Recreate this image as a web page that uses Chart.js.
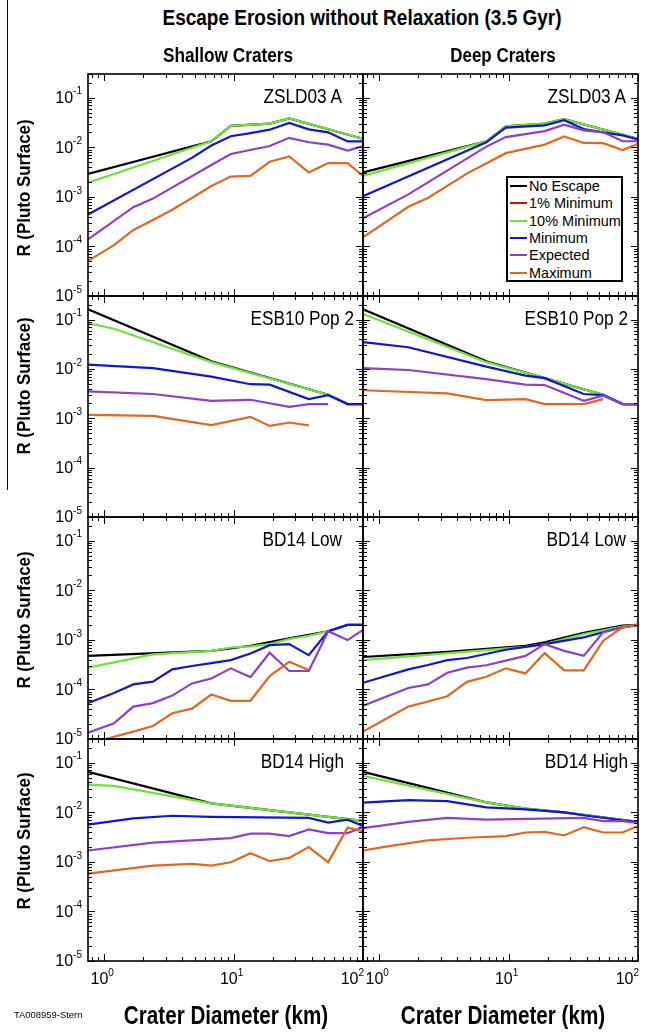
<!DOCTYPE html>
<html><head><meta charset="utf-8">
<script src="https://cdn.jsdelivr.net/npm/chart.js@4.4.1/dist/chart.umd.min.js"></script>
<style>
html,body{margin:0;padding:0;background:#fff;}
#page{position:relative;width:645px;height:1034px;overflow:hidden;background:#fff;font-family:"Liberation Sans",Arial,sans-serif;}
#page canvas{position:absolute;}
.t{position:absolute;white-space:nowrap;color:#000;line-height:1;}
</style></head><body><div id="page"></div>
<script>
const n = null;
// crater diameter bins (km)
const diameters = [0.75,1.19,1.68,2.38,3.36,4.76,6.73,9.51,13.5,19.0,26.9,38.1,53.8,76.1,100];
const xTickValues = [1,10,100];
const xTickExps = ['0','1','2'];
const yTickValues = [1e-1,1e-2,1e-3,1e-4,1e-5];
const yTickExps = ['-1','-2','-3','-4','-5'];
const seriesNames = ['No Escape','1% Minimum','10% Minimum','Minimum','Expected','Maximum'];
const seriesColors = ['#000000','#cc1010','#74e03c','#1414d4','#8c40d0','#e0681f'];

// ZSLD03 A, shallow
const zsS_noEsc = [2.9e-3,n,n,n,n,n,1.32e-2,2.7e-2,n,3.0e-2,3.8e-2,n,n,n,1.48e-2];
const zsS_ten   = [1.93e-3,n,n,n,n,n,1.32e-2,2.7e-2,n,3.0e-2,3.8e-2,n,n,n,1.48e-2];
const zsS_min   = [4.4e-4,n,n,n,n,6.1e-3,1.08e-2,1.67e-2,1.93e-2,2.26e-2,3.1e-2,2.3e-2,2.0e-2,1.31e-2,1.31e-2];
const zsS_exp   = [1.39e-4,n,6.2e-4,9.2e-4,n,n,4.4e-3,7.3e-3,n,1.06e-2,1.55e-2,1.26e-2,1.13e-2,8.6e-3,1.06e-2];
const zsS_max   = [5.1e-5,1.06e-4,2.15e-4,3.4e-4,5.5e-4,9.5e-4,1.65e-3,2.56e-3,2.64e-3,5.1e-3,6.5e-3,3.1e-3,4.8e-3,4.8e-3,2.64e-3];
// ZSLD03 A, deep
const zsD_noEsc = [3.1e-3,n,n,n,n,n,1.31e-2,2.64e-2,n,3.0e-2,3.7e-2,n,n,n,1.48e-2];
const zsD_ten   = [2.64e-3,n,n,n,n,n,1.31e-2,2.64e-2,n,3.0e-2,3.7e-2,n,n,n,1.48e-2];
const zsD_min   = [1.03e-3,n,n,n,n,n,1.26e-2,2.48e-2,n,2.77e-2,3.5e-2,2.33e-2,2.0e-2,1.73e-2,1.43e-2];
const zsD_exp   = [3.7e-4,n,1.12e-3,n,n,n,1.03e-2,1.6e-2,n,2.12e-2,2.86e-2,2.19e-2,2.0e-2,1.32e-2,1.32e-2];
const zsD_max   = [1.53e-4,n,6.3e-4,9.5e-4,n,2.94e-3,n,7.6e-3,n,1.13e-2,1.65e-2,1.22e-2,1.21e-2,8.8e-3,1.17e-2];
// ESB10 Pop 2, shallow
const esS_noEsc = [0.161,n,n,n,n,n,1.43e-2,n,n,n,n,n,2.99e-3,1.94e-3,1.94e-3];
const esS_ten   = [8.5e-2,6.5e-2,n,n,n,n,1.37e-2,n,n,n,n,n,2.99e-3,1.94e-3,1.94e-3];
const esS_min   = [1.22e-2,n,n,1.04e-2,n,n,6.97e-3,n,4.9e-3,4.8e-3,n,2.44e-3,2.95e-3,1.94e-3,1.94e-3];
const esS_exp   = [3.5e-3,n,n,3.1e-3,n,n,2.26e-3,n,2.37e-3,n,1.71e-3,1.94e-3,1.94e-3,n,n];
const esS_max   = [1.17e-3,n,n,1.12e-3,n,n,7.3e-4,n,1.07e-3,7.0e-4,8.2e-4,7.2e-4,n,n,n];
// ESB10 Pop 2, deep
const esD_noEsc = [0.161,n,n,n,n,n,1.43e-2,n,n,6.5e-3,n,n,2.99e-3,1.94e-3,1.94e-3];
const esD_ten   = [0.131,n,n,n,n,n,1.37e-2,n,n,6.5e-3,n,n,2.99e-3,1.94e-3,1.94e-3];
const esD_min   = [3.5e-2,n,2.75e-2,n,n,n,1.11e-2,n,7.3e-3,6.5e-3,n,3.1e-3,2.95e-3,1.94e-3,1.94e-3];
const esD_exp   = [1.04e-2,n,9.5e-3,n,n,n,6.2e-3,n,4.8e-3,4.7e-3,n,2.26e-3,2.86e-3,1.94e-3,1.94e-3];
const esD_max   = [3.7e-3,n,n,n,3.2e-3,n,2.33e-3,n,2.44e-3,1.94e-3,n,1.94e-3,2.44e-3,n,n];
// BD14 Low, shallow
const blS_noEsc = [4.75e-4,n,n,n,n,n,6.0e-4,n,7.6e-4,n,1.07e-3,n,1.49e-3,2.0e-3,2.0e-3];
const blS_ten   = [2.75e-4,3.5e-4,n,5.1e-4,n,n,6.0e-4,7.0e-4,7.4e-4,8.2e-4,1.04e-3,1.21e-3,1.49e-3,2.0e-3,2.0e-3];
const blS_min   = [5.3e-5,8.5e-5,1.26e-4,1.43e-4,2.54e-4,2.97e-4,3.4e-4,3.9e-4,5.3e-4,7.8e-4,8.2e-4,4.9e-4,1.49e-3,2.0e-3,2.0e-3];
const blS_exp   = [1.34e-5,2.08e-5,4.5e-5,5.3e-5,7.5e-5,1.32e-4,1.66e-4,2.66e-4,1.77e-4,5.5e-4,2.35e-4,2.35e-4,1.49e-3,9.9e-4,1.58e-3];
const blS_max   = [7.9e-6,1.11e-5,1.41e-5,1.83e-5,3.3e-5,4.1e-5,7.9e-5,5.9e-5,5.9e-5,1.86e-4,3.6e-4,2.46e-4,n,n,n];
// BD14 Low, deep
const blD_noEsc = [4.5e-4,n,n,n,5.7e-4,n,n,n,7.6e-4,8.9e-4,n,1.38e-3,n,1.94e-3,2.0e-3];
const blD_ten   = [3.9e-4,n,n,n,n,n,n,n,7.2e-4,8.2e-4,n,1.31e-3,n,1.85e-3,2.0e-3];
const blD_min   = [1.36e-4,n,2.54e-4,3.1e-4,3.9e-4,4.3e-4,n,6.3e-4,7.2e-4,8.2e-4,n,1.12e-3,1.42e-3,1.79e-3,2.0e-3];
const blD_exp   = [4.7e-5,n,1.07e-4,1.26e-4,2.17e-4,2.75e-4,3.07e-4,3.8e-4,4.75e-4,8.2e-4,6.0e-4,4.75e-4,1.42e-3,1.79e-3,2.0e-3];
const blD_max   = [1.41e-5,n,4.5e-5,5.7e-5,7.3e-5,1.42e-4,1.8e-4,2.66e-4,2.1e-4,5.4e-4,2.43e-4,2.43e-4,9.6e-4,1.79e-3,2.0e-3];
// BD14 High, shallow
const bhS_noEsc = [6.5e-2,n,n,n,n,n,1.51e-2,n,n,n,n,n,n,n,6.7e-3];
const bhS_ten   = [3.6e-2,3.4e-2,n,n,n,n,1.51e-2,n,n,n,n,n,n,n,6.7e-3];
const bhS_min   = [5.6e-3,n,7.5e-3,n,8.5e-3,n,8.1e-3,n,n,n,n,7.7e-3,6.2e-3,7.1e-3,5.3e-3];
const bhS_exp   = [1.69e-3,n,n,2.43e-3,n,n,n,3.0e-3,3.7e-3,3.7e-3,3.3e-3,4.5e-3,3.8e-3,3.8e-3,5.0e-3];
const bhS_max   = [5.8e-4,n,n,8.4e-4,n,9.1e-4,8.4e-4,9.8e-4,1.49e-3,1.03e-3,1.2e-3,1.98e-3,9.8e-4,4.9e-3,4.1e-3];
// BD14 High, deep
const bhD_noEsc = [6.5e-2,n,n,n,n,n,1.58e-2,n,1.19e-2,n,9.9e-3,n,n,n,6.4e-3];
const bhD_ten   = [5.4e-2,n,n,n,n,n,1.58e-2,n,1.19e-2,n,9.9e-3,n,n,n,6.4e-3];
const bhD_min   = [1.56e-2,n,1.76e-2,n,1.68e-2,n,1.25e-2,n,1.14e-2,n,9.9e-3,8.7e-3,n,6.9e-3,6.4e-3];
const bhD_exp   = [4.8e-3,n,6.4e-3,n,7.7e-3,n,7.1e-3,n,n,n,n,7.7e-3,6.6e-3,6.6e-3,6.1e-3];
const bhD_max   = [1.69e-3,2.07e-3,n,2.7e-3,n,3.06e-3,n,3.3e-3,3.9e-3,4.0e-3,3.4e-3,5.0e-3,3.9e-3,3.9e-3,5.3e-3];

const panelTitles = ['ZSLD03 A','ESB10 Pop 2','BD14 Low','BD14 High'];
const panelSeries = [
  [[zsS_noEsc,zsS_ten,zsS_min,zsS_exp,zsS_max],[zsD_noEsc,zsD_ten,zsD_min,zsD_exp,zsD_max]],
  [[esS_noEsc,esS_ten,esS_min,esS_exp,esS_max],[esD_noEsc,esD_ten,esD_min,esD_exp,esD_max]],
  [[blS_noEsc,blS_ten,blS_min,blS_exp,blS_max],[blD_noEsc,blD_ten,blD_min,blD_exp,blD_max]],
  [[bhS_noEsc,bhS_ten,bhS_min,bhS_exp,bhS_max],[bhD_noEsc,bhD_ten,bhD_min,bhD_exp,bhD_max]]
];
const plottedColorIdx = [0,2,3,4,5];

// ---------- layout ----------
const page = document.getElementById('page');
const colL = [88, 363], colR = [363, 638];
const rowT = [74, 296, 517, 739], rowB = [296, 517, 739, 961];
const canvX = [[0,375],[351,645]];
const FONT = '"Liberation Sans", Arial, sans-serif';

function addText(txt, x, y, o){
  const d = document.createElement('div');
  d.className = 't'; d.textContent = txt;
  d.style.font = (o.bold ? 'bold ' : '') + o.size + 'px ' + FONT;
  d.style.left = x + 'px'; d.style.top = y + 'px';
  page.appendChild(d);
  let s = o.sx || 1;
  if (o.width) s = o.width / d.offsetWidth;
  const a = o.anchor || 'center';
  if (o.rot) { d.style.transformOrigin='50% 50%'; d.style.transform='translate(-50%,-50%) rotate('+o.rot+'deg) scaleX('+s+')'; }
  else if (a==='center') { d.style.transformOrigin='50% 50%'; d.style.transform='translate(-50%,-50%) scaleX('+s+')'; }
  else if (a==='right') { d.style.transformOrigin='100% 50%'; d.style.transform='translate(-100%,-50%) scaleX('+s+')'; }
  else { d.style.transformOrigin='0 50%'; d.style.transform='translate(0,-50%) scaleX('+s+')'; }
  return d;
}

function logTicks(min, max){
  const out = [];
  for (let e = -6; e <= 3; e++) for (let m = 1; m <= 9; m++) {
    const v = m * Math.pow(10, e);
    if (v >= min*0.999 && v <= max*1.001) out.push({v, major: m===1});
  }
  return out;
}

const framePlugin = {
  id: 'frame',
  afterDatasetsDraw(chart, args, opts){
    const {ctx, chartArea:a, scales:{x, y}} = chart;
    ctx.save();
    ctx.strokeStyle = '#000'; ctx.lineWidth = 1;
    ctx.beginPath();
    logTicks(x.min, x.max).forEach(t => {
      const p = Math.round(x.getPixelForValue(t.v)) + 0.5, L = t.major ? 7 : 4;
      ctx.moveTo(p, a.bottom); ctx.lineTo(p, a.bottom - L);
      ctx.moveTo(p, a.top); ctx.lineTo(p, a.top + L);
    });
    logTicks(y.min, y.max).forEach(t => {
      const p = Math.round(y.getPixelForValue(t.v)) + 0.5, L = t.major ? 7 : 4;
      ctx.moveTo(a.left, p); ctx.lineTo(a.left + L, p);
      ctx.moveTo(a.right, p); ctx.lineTo(a.right - L, p);
    });
    ctx.stroke();
    ctx.lineWidth = 1.6;
    ctx.strokeRect(a.left, a.top, a.right - a.left, a.bottom - a.top);
    ctx.fillStyle = '#000';
    ctx.textBaseline = 'middle';
    if (opts.yLabels) {
      yTickValues.forEach((v, i) => {
        const py = y.getPixelForValue(v);
        ctx.font = '16px ' + FONT; const w1 = ctx.measureText('10').width;
        ctx.font = '10px ' + FONT; const w2 = ctx.measureText(yTickExps[i]).width;
        const x0 = a.left - 6 - w1 - w2;
        ctx.font = '16px ' + FONT; ctx.fillText('10', x0, py + 1);
        ctx.font = '10px ' + FONT; ctx.fillText(yTickExps[i], x0 + w1, py - 6);
      });
    }
    if (opts.xLabels) {
      xTickValues.forEach((v, i) => {
        const px = x.getPixelForValue(v);
        ctx.font = '16px ' + FONT; const w1 = ctx.measureText('10').width;
        ctx.font = '10px ' + FONT; const w2 = ctx.measureText(xTickExps[i]).width;
        let x0 = px - (w1 + w2) / 2 - 2;
        if (x0 + w1 + w2 > a.right + 1) x0 = a.right + 1 - w1 - w2;
        const py = a.bottom + 19;
        ctx.font = '16px ' + FONT; ctx.fillText('10', x0, py);
        ctx.font = '10px ' + FONT; ctx.fillText(xTickExps[i], x0 + w1, py - 7);
      });
    }
    ctx.restore();
  }
};

for (let r = 0; r < 4; r++) {
  for (let c = 0; c < 2; c++) {
    const cx0 = canvX[c][0], cx1 = canvX[c][1];
    const cy0 = rowT[r] - 14, cy1 = rowB[r] + (r === 3 ? 40 : 14);
    const cv = document.createElement('canvas');
    cv.width = cx1 - cx0; cv.height = cy1 - cy0;
    cv.style.left = cx0 + 'px'; cv.style.top = cy0 + 'px';
    cv.style.width = (cx1 - cx0) + 'px'; cv.style.height = (cy1 - cy0) + 'px';
    page.appendChild(cv);
    const datasets = panelSeries[r][c].map((vals, k) => ({
      label: seriesNames[plottedColorIdx[k]],
      data: diameters.map((d, i) => ({x: d, y: vals[i]})).filter(p => p.y !== null),
      borderColor: seriesColors[plottedColorIdx[k]],
      backgroundColor: seriesColors[plottedColorIdx[k]],
      borderWidth: 2.2,
      pointRadius: 0,
      tension: 0,
      fill: false,
      order: 5 - k
    }));
    new Chart(cv, {
      type: 'line',
      data: {datasets},
      options: {
        responsive: false, animation: false, maintainAspectRatio: false,
        devicePixelRatio: 1,
        layout: {padding: {left: colL[c] - cx0, right: cx1 - colR[c], top: rowT[r] - cy0, bottom: cy1 - rowB[r]}},
        scales: {
          x: {type: 'logarithmic', min: 0.75, max: 100, display: false},
          y: {type: 'logarithmic', min: 1e-5, max: 0.3, display: false}
        },
        plugins: {legend: {display: false}, tooltip: {enabled: false}, frame: {yLabels: c === 0, xLabels: r === 3}},
        events: []
      },
      plugins: [framePlugin]
    });
  }
}

// ---------- texts ----------
const lineDiv = document.createElement('div');
lineDiv.style.cssText = 'position:absolute;left:7px;top:0;width:1px;height:490px;background:#000;';
page.appendChild(lineDiv);

addText('Escape Erosion without Relaxation (3.5 Gyr)', 362, 18, {bold:true, size:22, width:399});
addText('Shallow Craters', 228, 55, {bold:true, size:20, width:130});
addText('Deep Craters', 503, 55, {bold:true, size:20, width:106});
const yTitleCenters = [188, 386, 620, 841];
yTitleCenters.forEach(cy => addText('R (Pluto Surface)', 24, cy, {bold:true, size:19, width:137, rot:-90}));
addText('Crater Diameter (km)', 226, 1015, {bold:true, size:25, width:204});
addText('Crater Diameter (km)', 503, 1015, {bold:true, size:25, width:204});
addText('TA008959-Stern', 14, 1015, {size:9, width:68, anchor:'left'});

const labelRight = [[342, 626],[354, 628],[342, 626],[344, 628]];
for (let r = 0; r < 4; r++) for (let c = 0; c < 2; c++)
  addText(panelTitles[r], labelRight[r][c], rowT[r] + 22, {size:20.5, sx:0.84, anchor:'right'});

// legend
const lg = document.createElement('div');
lg.style.cssText = 'position:absolute;left:506px;top:176px;width:117px;height:106px;border:2px solid #000;box-sizing:border-box;background:#fff;';
page.appendChild(lg);
seriesNames.forEach((nm, i) => {
  const cy = 186 + 17.3 * i;
  const ln = document.createElement('div');
  ln.style.cssText = 'position:absolute;left:510px;width:17px;height:2px;background:' + seriesColors[i] + ';top:' + (cy - 1) + 'px;';
  page.appendChild(ln);
  addText(nm, 529, cy, {size:14.5, anchor:'left'});
});
</script></body></html>
